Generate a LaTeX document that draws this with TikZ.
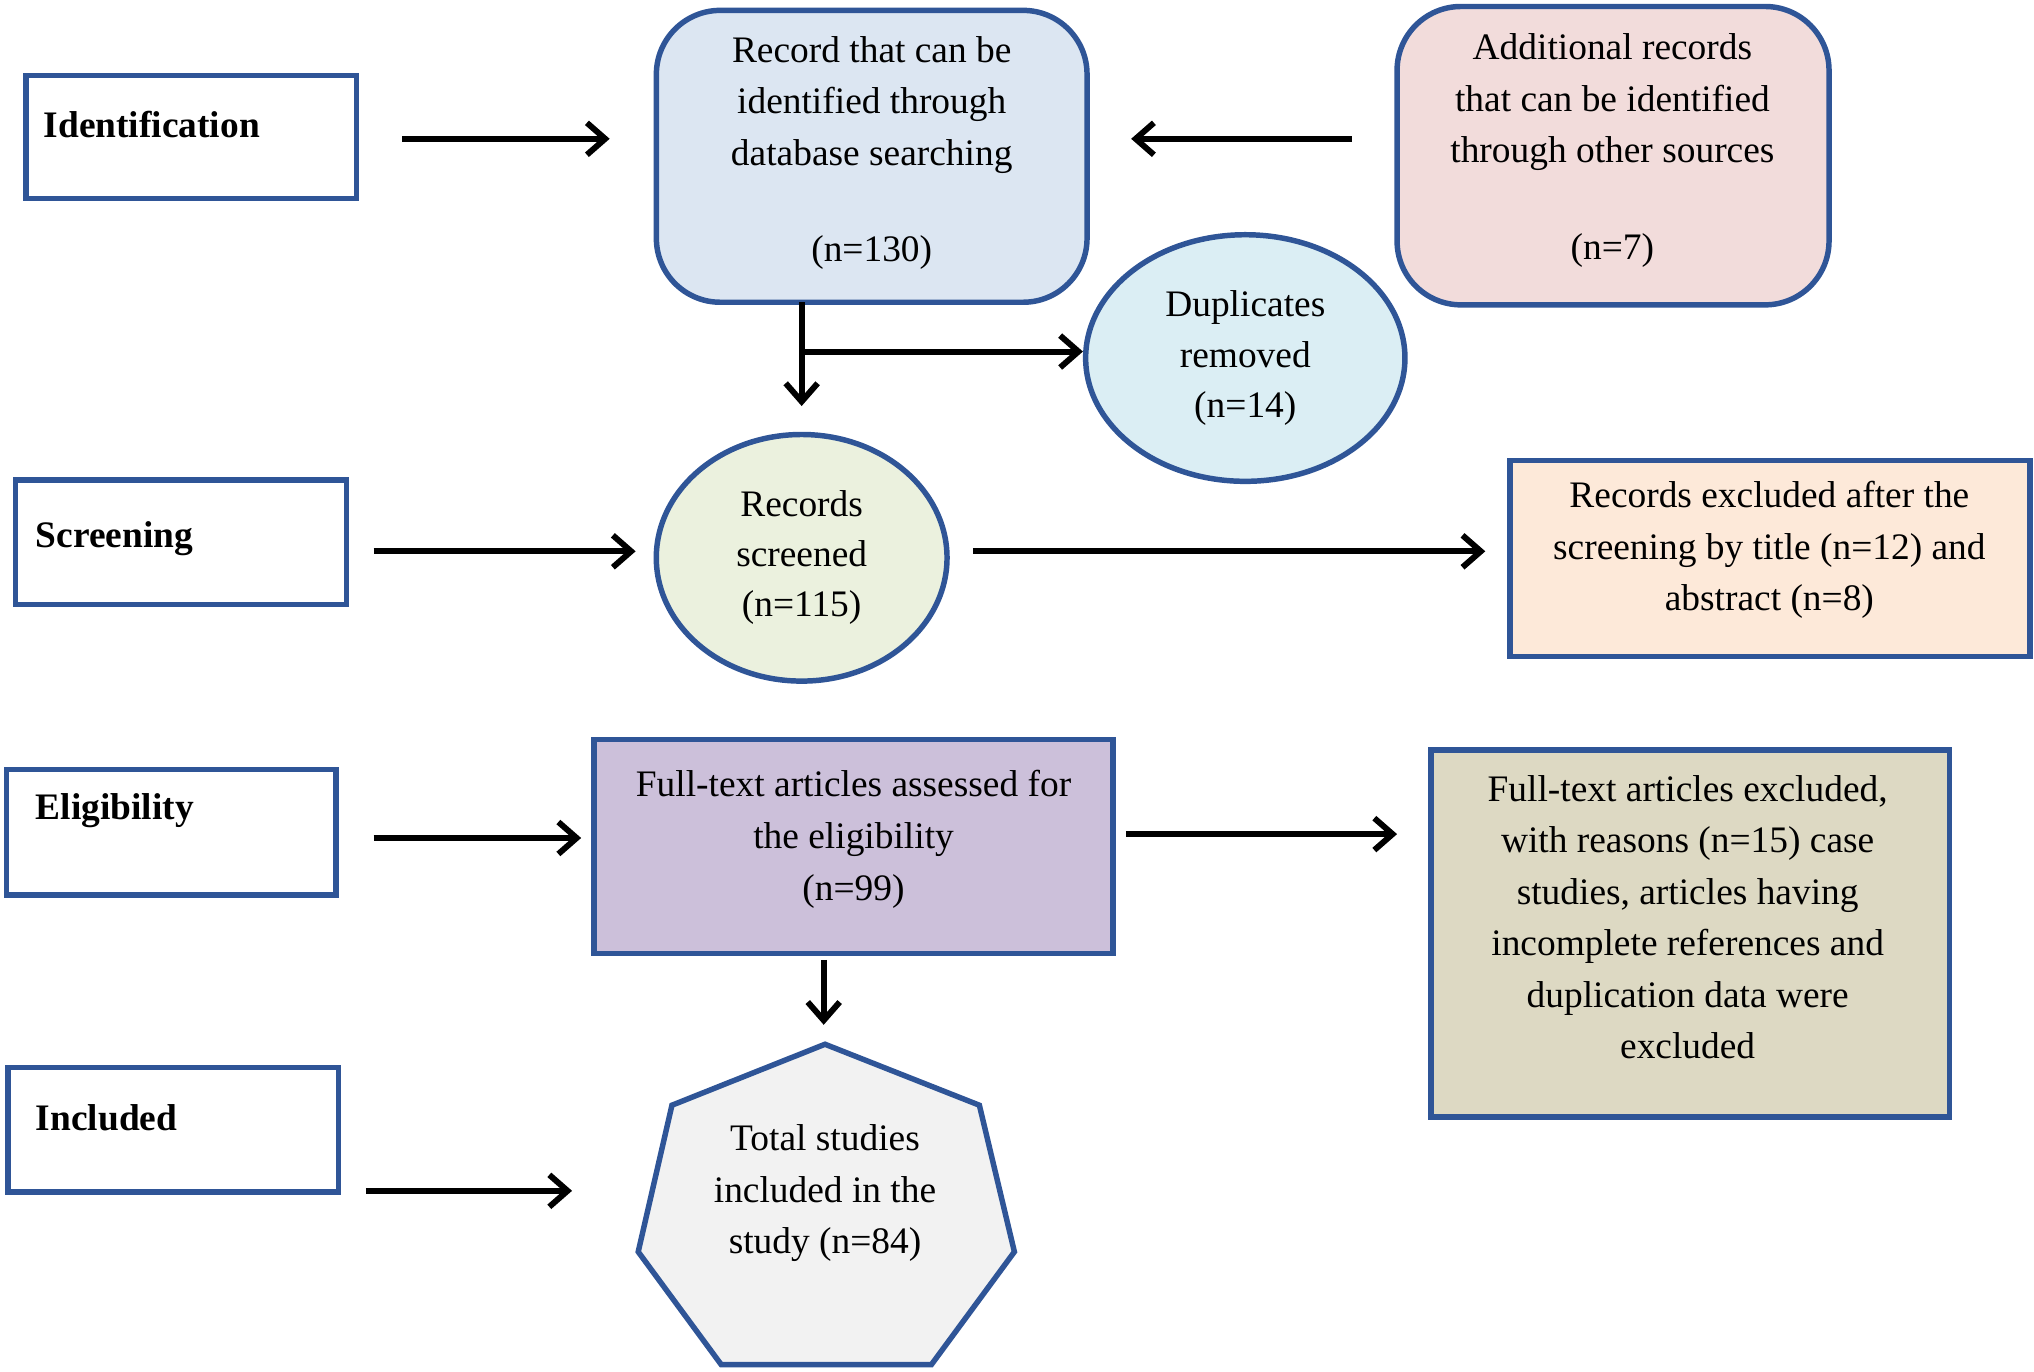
\documentclass[tikz,border=0pt]{standalone}
\usepackage{fontspec}
\setmainfont{Liberation Serif}
\usetikzlibrary{shapes.geometric,arrows.meta}
\definecolor{bord}{HTML}{2F5597}
\definecolor{cRec}{HTML}{DCE6F2}
\definecolor{cAdd}{HTML}{F2DCDB}
\definecolor{cDup}{HTML}{DBEEF4}
\definecolor{cScr}{HTML}{EBF1DE}
\definecolor{cExc}{HTML}{FDE9D9}
\definecolor{cFt}{HTML}{CCC0DA}
\definecolor{cFte}{HTML}{DDD9C3}
\definecolor{cTot}{HTML}{F2F2F2}
\begin{document}
\begin{tikzpicture}[x=0.01cm,y=-0.01cm,
 lab/.style={draw=bord,line width=1.2pt},
 labt/.style={anchor=west,inner sep=0pt,font=\fontsize{8.2}{10}\selectfont\bfseries},
 box/.style={draw=bord,line width=1.2pt,align=center,font=\fontsize{8.2}{11}\selectfont},
 arr/.style={line width=1.3pt,-{Straight Barb[length=4pt,width=7pt]}},
 txt/.style={align=center,font=\fontsize{8.2}{11.3}\selectfont}]
\useasboundingbox (0,0) rectangle (1568,1057);
% stage labels
\draw[lab] (20,58) rectangle (275,153); \node[labt] (tid) at (33,96) {Identification};
\draw[lab] (12,370) rectangle (267,466); \node[labt] (tsc) at (27,415) {Screening};
\draw[lab] (5,593) rectangle (259,690); \node[labt] (tel) at (27,625) {Eligibility};
\draw[lab] (6,823) rectangle (261,919); \node[labt] (tin) at (27,862) {Included};
\coordinate (a1) at (310,107); \coordinate (a1e) at (470,107);
\coordinate (a2) at (288,425); \coordinate (a2e) at (490,425);
\coordinate (a3) at (288,646); \coordinate (a3e) at (448,646);
\coordinate (a4) at (282,918); \coordinate (a4e) at (441,918);
\draw[arr] (a1)--(a1e); \draw[arr] (a2)--(a2e); \draw[arr] (a3)--(a3e); \draw[arr] (a4)--(a4e);
% record
\draw[box,rounded corners=14pt,fill=cRec] (506,8) rectangle (838,233);
\node[txt] (rec) at (672,118) {Record that can be\\identified through\\database searching\\[2.6ex](n=130)};
\draw[box,rounded corners=14pt,fill=cAdd] (1077,5) rectangle (1410,235);
\node[txt] (add) at (1243,116) {Additional records\\that can be identified\\through other sources\\[2.6ex](n=7)};
\coordinate (b1) at (1042,107); \coordinate (b1e) at (872,107);
\draw[arr] (b1)--(b1e);
% duplicates
\node[box,ellipse,fill=cDup,minimum width=2.46cm,minimum height=1.9cm,inner sep=0pt] (dup) at (960,276) {Duplicates\\removed\\(n=14)};
\coordinate (r0) at (618,233); \coordinate (r1) at (618,313); \coordinate (rb) at (618,271);
\draw[arr] (r0)--(r1);
\draw[arr] (rb)--(dup.west |- rb);
% screened
\node[box,ellipse,fill=cScr,minimum width=2.24cm,minimum height=1.9cm,inner sep=0pt] (scr) at (618,430) {Records\\screened\\(n=115)};
\coordinate (c1) at (750,425); \coordinate (c1e) at (1145,425);
\draw[arr] (c1)--(c1e);
\draw[box,fill=cExc] (1164,355) rectangle (1565,506);
\node[txt] (exc) at (1364,424) {Records excluded after the\\screening by title (n=12) and\\abstract (n=8)};
% full text
\draw[box,fill=cFt] (458,570) rectangle (858,735);
\node[txt] (ft) at (658,647) {Full-text articles assessed for\\the eligibility\\(n=99)};
\coordinate (d1) at (868,643); \coordinate (d1e) at (1077,643);
\draw[arr] (d1)--(d1e);
\draw[box,fill=cFte] (1103,578) rectangle (1503,861);
\node[txt] (fte) at (1301,707) {Full-text articles excluded,\\with reasons (n=15) case\\studies, articles having\\incomplete references and\\duplication data were\\excluded};
\coordinate (e1) at (635,740); \coordinate (e1e) at (635,790);
\draw[arr] (e1)--(e1e);
% heptagon
\draw[box,fill=cTot] (636,805)--(755,852)--(782,965)--(718,1052)--(556,1052)--(492,965)--(518,852)--cycle;
\node[txt] (tot) at (636,920) {Total studies\\included in the\\study (n=84)};
\end{tikzpicture}
\end{document}
